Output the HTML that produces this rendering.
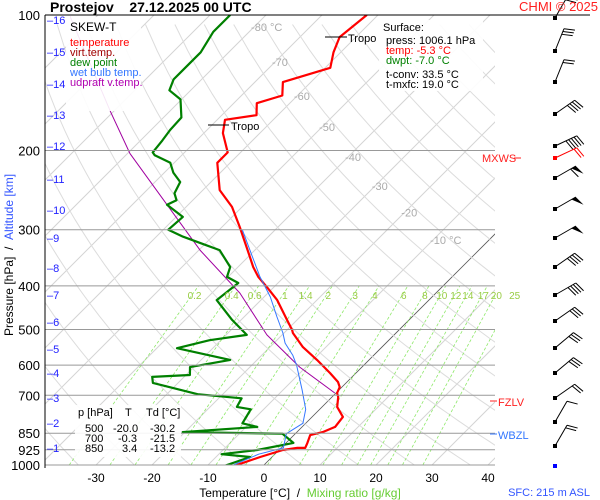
<!DOCTYPE html>
<html><head><meta charset="utf-8"><style>
body{margin:0;background:#fff;}
svg{display:block;font-family:"Liberation Sans",sans-serif;}
</style></head><body>
<svg id="c" width="600" height="500" viewBox="0 0 600 500" xmlns="http://www.w3.org/2000/svg">
<defs><clipPath id="plot"><rect x="45" y="15" width="450" height="450"/></clipPath></defs>
<rect x="0" y="0" width="600" height="500" fill="#fff"/>
<g id="grid" clip-path="url(#plot)"></g>
<g id="series" clip-path="url(#plot)"></g>
<g id="axes"></g>
<g id="barbs"></g>
<text x="50" y="12" font-size="14" font-weight="bold">Prostejov&#160;&#160;&#160;&#160;27.12.2025 00 UTC</text>
<text x="598" y="11" font-size="13" fill="#ff2020" text-anchor="end">CHMI © 2025</text>
<g>
<rect x="66" y="17" width="75" height="94" fill="#fff" opacity="0.9"/>
<text x="70" y="31" font-size="12">SKEW-T</text>
<text x="70" y="46" font-size="11" fill="#ff0000">temperature</text>
<text x="70" y="56" font-size="11" fill="#a00000">virt.temp.</text>
<text x="70" y="66" font-size="11" fill="#008000">dew point</text>
<text x="70" y="76" font-size="11" fill="#3377ff">wet bulb temp.</text>
<text x="70" y="86" font-size="11" fill="#b000b0">udpraft v.temp.</text>
</g>
<g>
<rect x="379" y="20" width="104" height="71" fill="#fff" opacity="0.9"/>
<text x="383" y="31" font-size="11">Surface:</text>
<text x="386" y="44" font-size="11">press: 1006.1 hPa</text>
<text x="386" y="54" font-size="11" fill="#ff0000">temp: -5.3 °C</text>
<text x="386" y="64" font-size="11" fill="#008000">dwpt: -7.0 °C</text>
<text x="386" y="78" font-size="11">t-conv: 33.5 °C</text>
<text x="386" y="88" font-size="11">t-mxfc: 19.0 °C</text>
</g>
<g>
<rect x="75" y="405" width="106" height="52" fill="#fff" opacity="0.9"/>
<text x="78" y="416" font-size="11">p [hPa]</text><text x="125" y="416" font-size="11">T</text><text x="146" y="416" font-size="11">Td [°C]</text>
<text x="85" y="432" font-size="11">500</text><text x="113" y="432" font-size="11">-20.0</text><text x="150" y="432" font-size="11">-30.2</text>
<text x="85" y="442" font-size="11">700</text><text x="118" y="442" font-size="11">-0.3</text><text x="150" y="442" font-size="11">-21.5</text>
<text x="85" y="452" font-size="11">850</text><text x="122" y="452" font-size="11">3.4</text><text x="150" y="452" font-size="11">-13.2</text>
</g>
<g>
<line x1="208" y1="125" x2="229" y2="125" stroke="#000"/><text x="231" y="130" font-size="11">Tropo</text>
<line x1="325" y1="37" x2="347" y2="37" stroke="#000"/><text x="348" y="42" font-size="11">Tropo</text>
</g>
<g>
<text x="482" y="162" font-size="11" fill="#ff2020">MXWS</text><line x1="514" y1="158" x2="521" y2="158" stroke="#ff2020"/>
<rect x="496" y="395" width="30" height="12" fill="#fff"/>
<line x1="490" y1="401" x2="497" y2="401" stroke="#ff2020"/><text x="498" y="406" font-size="11" fill="#ff2020">FZLV</text>
<rect x="496" y="428" width="30" height="12" fill="#fff"/>
<line x1="490" y1="434" x2="497" y2="434" stroke="#3377ff"/><text x="498" y="439" font-size="11" fill="#3377ff">WBZL</text>
</g>
<text x="300" y="497" font-size="12" text-anchor="middle">Temperature [°C]&#160;&#160;/&#160;&#160;<tspan fill="#66cc33">Mixing ratio [g/kg]</tspan></text>
<text x="590" y="496" font-size="11" fill="#3355ff" text-anchor="end">SFC: 215 m ASL</text>
<text transform="translate(13,255) rotate(-90)" font-size="12" text-anchor="middle">Pressure [hPa]&#160;&#160;/&#160;&#160;<tspan fill="#3355ff">Altitude [km]</tspan></text>
</svg>
<script>
const tempP=[1006,960,926,916,916,893,858,845,823,782,743,706,692,671,654,625,584,547,509,501,476,430,402,382,363,333,296,267,245,213,202,183,171,167,157,151,141,131,121,112,100];
const tempT=[-5.3,-2.1,0.7,2.9,4.3,3.8,2.9,4.6,5.9,5.5,2.7,1.1,0.2,-0.4,-1.6,-4.6,-9.3,-14.1,-18.4,-19.1,-21.8,-27.1,-31.3,-34.6,-37.3,-41.3,-46.8,-51.8,-57.0,-62.3,-62.3,-66.6,-68.6,-63.8,-65.9,-62.7,-65.0,-59.1,-61.3,-62.9,-62.0];
const dewP=[1006,960,946,926,893,852,845,823,808,752,743,711,696,657,637,631,606,584,550,528,514,476,430,394,382,363,333,325,311,300,281,264,258,249,235,224,213,205,202,190,180,169,154,147,139,133,121,109,100];
const dewT=[-7.0,-3.9,-9.5,-3.9,1.3,-2.3,-20.4,-8.0,-11.3,-12.3,-15.2,-15.9,-24.5,-34.5,-35.7,-29.3,-30.7,-24.8,-36.4,-32.0,-26.3,-31.6,-37.9,-37.1,-40.2,-41.4,-46.3,-49.5,-55.2,-59.1,-58.8,-63.8,-62.9,-64.5,-65.5,-68.4,-70.7,-74.8,-75.7,-76.1,-76.6,-76.8,-80.2,-83.8,-85.0,-85.0,-85.0,-86.4,-86.4];
const wbP=[1006,946,916,852,808,752,681,600,570,536,509,469,423,382,333,300];
const wbT=[-5.8,-2.9,0.4,-1.6,-0.5,-2.5,-6.6,-12.0,-14.5,-18.0,-20.2,-24.1,-28.9,-34.3,-40.9,-45.9];
const updP=[692,606,514,415,333,264,203,164,101];
const updT=[-0.2,-11.1,-22.7,-35.0,-49.8,-63.8,-79.6,-90.5,-114.6];
const pLevels=[100,200,300,400,500,600,700,850,925,1000];
const tTicks=[-30,-20,-10,0,10,20,30,40];
const isoLabels=[-80,-70,-60,-50,-40,-30,-20,-10];
const isoLabelP=[106.3,127.2,151.4,177.3,206.7,240,275,316];
const mixRatios=[0.2,0.4,0.6,1,1.4,2,3,4,6,8,10,12,14,17,20,25];
const kmLevels=[1,2,3,4,5,6,7,8,9,10,11,12,13,14,15,16];
const kmY=[448,423,398,373,349,322,295,268,238,210,179,146,115,84,52,20];
const barbY=[18,51,82,114,146,158,178,209,238,267,295,321,348,373,398,422,446];
const barbAng=[60,68,68,35,25,25,30,30,30,35,30,35,40,40,35,60,60];
const barbFeat=[2,3,2,4,5,2,1,0,0,4,4,3,3,3,2,1,2];
const barbPen=[0,0,0,0,0,0,1,1,1,0,0,0,0,0,0,0,0];

const NS='http://www.w3.org/2000/svg';
const yP=p=>15+450*Math.log10(p/100);
const xT=(T,p)=>264+5.6*T+(465-yP(p));
function mk(tag,attrs,parent){const e=document.createElementNS(NS,tag);for(const k in attrs)e.setAttribute(k,attrs[k]);parent.appendChild(e);return e;}
const grid=document.getElementById('grid'),series=document.getElementById('series'),axes=document.getElementById('axes'),barbs=document.getElementById('barbs');

for(let T=-130;T<=40;T+=10){
  const l=mk('line',{x1:xT(T,1050),y1:yP(1050),x2:xT(T,90),y2:yP(90),stroke:T===0?'#555':'#d4d4d4','stroke-width':T===0?0.8:1},grid);
  
  
}
for(let th=230;th<=480;th+=10){
  let d='';
  for(let p=1050;p>=95;p-=15){const T=th*Math.pow(p/1000,0.2857)-273.15;d+=(d?'L':'M')+xT(T,p).toFixed(1)+','+yP(p).toFixed(1);}
  const a=mk('path',{d:d,fill:'none',stroke:'#dcdcdc','stroke-width':1},grid);
  
  
}
function tdW(w,p){const e=w*p/(622+w);const g=Math.log(e/6.112);return 243.5*g/(17.67-g);}
mixRatios.forEach(w=>{
  const m=mk('line',{x1:xT(tdW(w,1000),1000),y1:yP(1000),x2:xT(tdW(w,400),400),y2:yP(400),stroke:'#8fe86a','stroke-width':0.8,'stroke-dasharray':'3,2'},grid);
  
  
  const t=mk('text',{x:xT(tdW(w,400),400)-4,y:299,'font-size':10,fill:'#99cc44','text-anchor':'middle'},axes);
  t.textContent=String(w);
  
  
});
pLevels.forEach(p=>{
  const y=yP(p);
  if(p!==100){const l=mk('line',{x1:45,y1:y,x2:495,y2:y,stroke:'#999','stroke-width':1},axes);
  
  }
  const t=mk('text',{x:40,y:y+5,'font-size':13,'text-anchor':'end'},axes);
  t.textContent=String(p);
  
  
});
mk('line',{x1:45,y1:15,x2:590,y2:15,stroke:'#000','stroke-width':1},axes);
mk('line',{x1:45,y1:15,x2:45,y2:468,stroke:'#000','stroke-width':1},axes);
tTicks.forEach(T=>{
  const t=mk('text',{x:xT(T,1000),y:482,'font-size':12,'text-anchor':'middle'},axes);
  t.textContent=String(T);
  
  
});
isoLabels.forEach((T,i)=>{
  const p=isoLabelP[i];
  const t=mk('text',{x:xT(T,p)-3,y:yP(p)+4,'font-size':11,fill:'#aaa','text-anchor':'start'},axes);
  t.textContent=(T===-80||T===-10)?T+' °C':String(T);
  
  
});
kmLevels.forEach((k,i)=>{
  const t=mk('text',{x:47,y:kmY[i]+4,'font-size':11,fill:'#2222ff'},axes);
  t.textContent='\u2013'+k;
  
  
});
function line(P,T,col,w,name){
  let d='';P.forEach((p,i)=>{d+=(i?'L':'M')+xT(T[i],p).toFixed(1)+','+yP(p).toFixed(1);});
  const e=mk('path',{d:d,fill:'none',stroke:col,'stroke-width':w,'stroke-linejoin':'round'},series);
  
  
}
line(updP,updT,'#a000a0',1,'updraft-line');
line(dewP,dewT,'#008000',2.2,'dew-point-line');
line(tempP,tempT,'#ff0000',2.2,'temperature-line');
line(wbP,wbT,'#3377ff',1,'wet-bulb-line');
barbY.forEach((y,i)=>{
  const col=i===5?'#ff0000':'#000';
  const a=barbAng[i]*Math.PI/180,L=24;
  const x0=555,tx=x0+L*Math.cos(a),ty=y-L*Math.sin(a);
  const g=mk('g',{},barbs);
  
  
  mk('rect',{x:x0-2,y:y-2,width:4,height:4,fill:col},g);
  mk('line',{x1:x0,y1:y,x2:tx,y2:ty,stroke:col,'stroke-width':1},g);
  const fa=a-75*Math.PI/180;
  let k=0;
  if(barbPen[i]){
    mk('polygon',{points:`${tx},${ty} ${tx+11*Math.cos(fa)},${ty-11*Math.sin(fa)} ${tx-5*Math.cos(a)},${ty+5*Math.sin(a)}`,fill:col},g);k=2;}
  for(let f=0;f<barbFeat[i];f++){
    const d=(k+f)*3,bx=tx-d*Math.cos(a),by=ty+d*Math.sin(a);
    mk('line',{x1:bx,y1:by,x2:bx+11*Math.cos(fa),y2:by-11*Math.sin(fa),stroke:col,'stroke-width':1},g);
  }
});
mk('rect',{x:553,y:464,width:4,height:4,fill:'#0000ff'},barbs);
</script>
</body></html>
